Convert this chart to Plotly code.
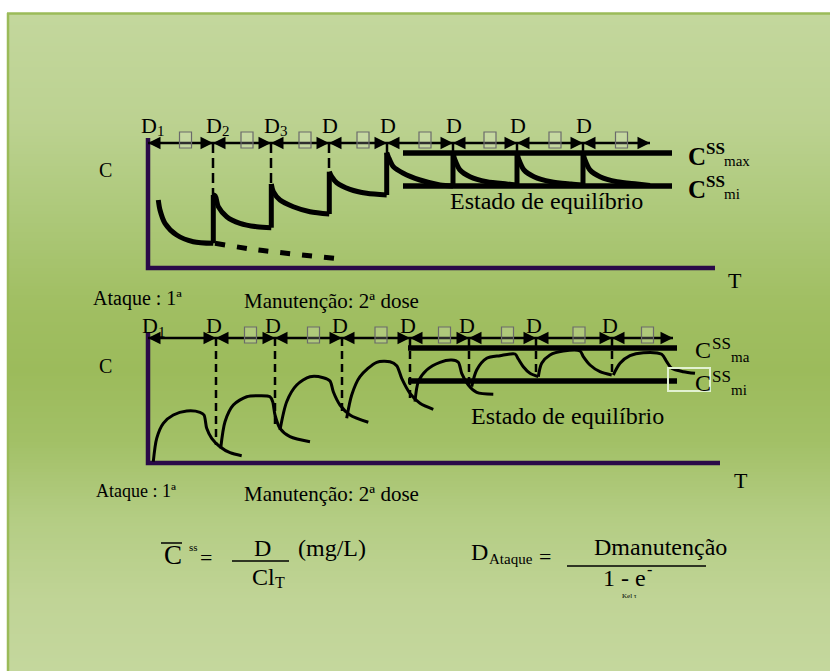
import plotly.graph_objects as go

W, H = 830, 671
FONT = "Liberation Serif"

# ---------------- data (time in h, concentration in mg/L) ----------------
# Panel 1 : repeated i.v. bolus doses
p1_dose_t = [0, 6.5, 12.3, 18.1, 23.9, 30.5, 36.9, 43.5]
p1_last_t = 50.2
p1_peak_C = [6.8, 7.3, 8.4, 9.6, 11.5, 11.5, 11.5, 11.5]
p1_labels = ["D", "D", "D", "D", "D", "D", "D", "D"]
p1_label_subs = ["1", "2", "3", "", "", "", "", ""]
p1_decay_t = [
    [1.03, 1.2, 1.7, 2.87, 4.53, 6.53],
    [6.53, 6.73, 7.03, 7.87, 9.2, 10.87, 12.33],
    [12.33, 12.53, 13.2, 14.53, 16.2, 18.13],
    [18.13, 18.37, 18.87, 20.2, 21.87, 23.87],
    [23.87, 24.03, 24.53, 25.53, 27.2, 29.2, 30.5],
    [30.5, 30.7, 31.2, 32.2, 33.87, 35.87, 36.9],
    [36.9, 37.1, 37.6, 38.6, 40.3, 42.3, 43.5],
    [43.5, 43.7, 44.2, 45.2, 46.9, 48.9, 50.2],
]
p1_decay_C = [
    [6.8, 5.8, 4.47, 3.3, 2.63, 2.47],
    [7.3, 7.2, 6.13, 5.13, 4.47, 4.13, 4.03],
    [8.4, 7.63, 6.8, 6.13, 5.63, 5.4],
    [9.63, 9.13, 8.53, 7.87, 7.47, 7.3],
    [11.53, 11.13, 10.13, 9.47, 8.8, 8.3, 8.2],
    [11.5, 10.8, 9.8, 9.13, 8.63, 8.4, 8.3],
    [11.5, 10.8, 9.8, 9.13, 8.63, 8.4, 8.3],
    [11.5, 10.8, 9.8, 9.13, 8.63, 8.4, 8.25],
]
p1_single_t = [6.7, 11.0, 18.7]
p1_single_C = [2.47, 1.8, 0.97]
p1_css_max, p1_css_min = 11.5, 8.2
p1_css_t = [25.5, 52.4]
p1_axis_t_end, p1_axis_C_top = 56.7, 13.0

# Panel 2 : repeated extravascular doses
p2_dose_t = [0, 6.8, 12.7, 19.4, 26.2, 32.1, 38.8, 46.4]
p2_last_t = 52.5
p2_dose_C = [None, 1.8, 3.5, 4.8, 6.3, 7.8, 8.6, 8.8]
p2_labels = ["D", "D", "D", "D", "D", "D", "D", "D"]
p2_label_subs = ["1", "", "", "", "", "", "", ""]
p2_curve_t = [
    [0.53, 0.87, 1.53, 2.53, 3.87, 5.2, 5.6, 5.87, 6.37, 7.2, 8.2, 9.37],
    [7.27, 7.7, 8.53, 9.87, 11.2, 12.2, 12.47, 12.7, 13.2, 14.2, 16.2],
    [13.2, 13.87, 14.87, 16.2, 17.53, 18.2, 18.53, 19.2, 20.2, 22.03],
    [19.87, 20.37, 21.2, 22.87, 24.2, 24.87, 25.37, 26.2, 27.2, 28.53],
    [26.7, 27.03, 27.87, 29.2, 30.37, 31.03, 31.37, 32.03, 32.87, 34.53],
    [32.37, 32.87, 33.87, 35.2, 36.7, 37.03, 37.53, 38.2, 39.03],
    [39.03, 39.37, 40.2, 41.53, 43.2, 43.53, 44.2, 45.2, 46.37],
    [46.53, 47.2, 48.2, 49.53, 51.37, 51.87, 52.37, 53.53, 54.7],
]
p2_curve_C = [
    [0.13, 2.47, 3.97, 4.8, 5.2, 5.07, 4.8, 3.47, 2.47, 1.63, 1.03, 0.73],
    [1.47, 4.13, 5.8, 6.63, 6.73, 6.63, 6.13, 4.8, 3.47, 2.63, 2.13],
    [3.3, 6.13, 7.8, 8.63, 8.53, 8.2, 7.13, 5.8, 4.8, 4.07],
    [4.47, 6.8, 8.63, 10.07, 10.13, 9.73, 8.47, 6.97, 5.97, 5.37],
    [6.13, 8.13, 9.3, 10.07, 10.3, 10.07, 8.97, 7.8, 7.07, 6.87],
    [7.63, 9.3, 10.47, 10.73, 10.9, 10.4, 9.63, 8.97, 8.63],
    [8.63, 9.97, 10.8, 11.2, 11.2, 10.63, 9.8, 9.13, 8.8],
    [8.8, 9.97, 10.73, 11.03, 10.87, 10.13, 9.47, 9.13, 8.97],
]
p2_css_max, p2_css_min = 11.5, 8.2
p2_css_t = [26.0, 52.9]
p2_axis_t_end, p2_axis_C_top = 57.2, 13.0

# ---------------- styling constants ----------------
PURPLE = "#2a0a48"
ARROW_C = 12.5
TAU_C = 12.8

fig = go.Figure()


def line(xs, ys, axes, width, color="black", dash=None, shape="linear"):
    fig.add_trace(go.Scatter(
        x=xs, y=ys, xaxis=axes[0], yaxis=axes[1], mode="lines",
        line=dict(width=width, color=color, dash=dash, shape=shape, smoothing=0.8),
        hoverinfo="skip", showlegend=False, connectgaps=False))


def arrows(doses, last, axes):
    ends = doses[1:] + [last]
    for a, b in zip(doses, ends):
        line([a, b], [ARROW_C, ARROW_C], axes, 2.3)
    fig.add_trace(go.Scatter(
        x=doses, y=[ARROW_C] * len(doses), xaxis=axes[0], yaxis=axes[1], mode="markers",
        marker=dict(symbol="arrow-left", size=12.5, color="black", line=dict(width=0)),
        hoverinfo="skip", showlegend=False))
    fig.add_trace(go.Scatter(
        x=ends, y=[ARROW_C] * len(ends), xaxis=axes[0], yaxis=axes[1], mode="markers",
        marker=dict(symbol="arrow-right", size=12.5, color="black", line=dict(width=0)),
        hoverinfo="skip", showlegend=False))


A1, A2 = ("x", "y"), ("x2", "y2")

# ---- panel 1 ----
line([0, 0, p1_axis_t_end], [p1_axis_C_top, 0, 0], A1, 4.5, PURPLE)
for tt, cc in zip(p1_decay_t, p1_decay_C):
    line(tt, cc, A1, 5, shape="spline")
for i in range(1, len(p1_dose_t)):
    line([p1_decay_t[i - 1][-1], p1_decay_t[i][0]], [p1_decay_C[i - 1][-1], p1_decay_C[i][0]], A1, 5)
line(p1_single_t, p1_single_C, A1, 5, dash="10px,12px", shape="spline")
line(p1_css_t, [p1_css_max] * 2, A1, 5.5)
line(p1_css_t, [p1_css_min] * 2, A1, 5.5)
for i in range(1, len(p1_dose_t)):
    line([p1_dose_t[i]] * 2, [ARROW_C, p1_peak_C[i]], A1, 2.5, dash="10px,5px")
arrows(p1_dose_t, p1_last_t, A1)

# ---- panel 2 ----
line([0, 0, p2_axis_t_end], [p2_axis_C_top, 0, 0], A2, 4.5, PURPLE)
line(p2_css_t, [p2_css_max] * 2, A2, 5.5)
line(p2_css_t, [p2_css_min] * 2, A2, 5.5)
for i in range(1, len(p2_dose_t)):
    line([p2_dose_t[i]] * 2, [ARROW_C, p2_dose_C[i]], A2, 2.5, dash="8px,5px")
for tt, cc in zip(p2_curve_t, p2_curve_C):
    line(tt, cc, A2, 3, shape="spline")
arrows(p2_dose_t, p2_last_t, A2)

# ---------------- annotations ----------------
ann = []
shapes = []


def txt(x, y, text, size, xref="x", yref="y", xanchor="center", yanchor="middle",
        xshift=0, yshift=0, bold=False):
    ann.append(dict(x=x, y=y, xref=xref, yref=yref, text=text, showarrow=False,
                    xanchor=xanchor, yanchor=yanchor, xshift=xshift, yshift=yshift,
                    font=dict(family=FONT, size=size, color="black",
                              weight=("bold" if bold else "normal"))))


def taus(doses, last, xr, yr, skip_first=False):
    ends = doses[1:] + [last]
    for k, (a, b) in enumerate(zip(doses, ends)):
        if skip_first and k == 0:
            continue
        m = (a + b) / 2 + 0.5
        shapes.append(dict(type="rect", xref=xr, yref=yr, x0=m - 0.6, x1=m + 0.6,
                           y0=TAU_C - 0.8, y1=TAU_C + 0.8,
                           line=dict(color="#6a6a6a", width=1.2), fillcolor="rgba(255,255,255,0.18)"))


# panel 1 texts
for t, lab, sub in zip(p1_dose_t, p1_labels, p1_label_subs):
    txt(t, 14.3, lab, 22, xanchor="left", xshift=-9)
    if sub:
        txt(t, 13.7, sub, 15, xanchor="left", xshift=7)
txt(-4.3, 9.8, "C", 20)
txt(58.7, -1.2, "T", 22)
txt(39.8, 6.7, "Estado de equilíbrio", 24)
for cy, sub in [(11.2, "max"), (7.9, "mi")]:
    txt(53.8, cy, "C", 25, xanchor="left", bold=True)
    txt(55.6, cy + 0.8, "SS", 17, xanchor="left", bold=True)
    txt(57.4, cy - 0.5, sub, 15, xanchor="left")
txt(-1.1, -3.0, "Ataque : 1ª", 20)
txt(18.3, -3.3, "Manutenção: 2ª dose", 21)

# panel 2 texts
for k, (t, lab, sub) in enumerate(zip(p2_dose_t, p2_labels, p2_label_subs)):
    sh = -8 if k == 0 else -12
    txt(t, 13.75, lab, 22, xref="x2", yref="y2", xanchor="left", xshift=sh)
    if sub:
        txt(t, 13.15, sub, 15, xref="x2", yref="y2", xanchor="left", xshift=sh + 16)
txt(-4.3, 9.7, "C", 20, "x2", "y2")
txt(59.3, -1.7, "T", 22, "x2", "y2")
txt(41.9, 4.7, "Estado de equilíbrio", 24, "x2", "y2")
for cy, sub in [(11.3, "ma"), (8.0, "mi")]:
    txt(54.5, cy, "C", 24, "x2", "y2", xanchor="left")
    txt(56.2, cy + 0.65, "SS", 17, "x2", "y2", xanchor="left")
    txt(58.1, cy - 0.65, sub, 15, "x2", "y2", xanchor="left")
txt(-1.2, -2.8, "Ataque : 1ª", 18, "x2", "y2")
txt(18.3, -3.1, "Manutenção: 2ª dose", 21, "x2", "y2")

taus(p1_dose_t, p1_last_t, "x", "y")
taus(p2_dose_t, p2_last_t, "x2", "y2", skip_first=True)

shapes.append(dict(type="rect", xref="x2", yref="y2", x0=52.0, x1=56.2, y0=7.2, y1=9.5,
                   line=dict(color="#e2f2d2", width=2)))


# formula row (paper coordinates from pixel positions)
def px(x):
    return x / W


def py(y):
    return 1 - y / H


def ptxt(x, y, text, size, xanchor="center"):
    txt(px(x), py(y), text, size, xref="paper", yref="paper", xanchor=xanchor)


ptxt(173, 555, "C", 27)
ptxt(187, 547, "ss", 11, xanchor="left")
ptxt(206, 557, "=", 22)
ptxt(262, 548, "D", 24)
ptxt(250, 577, "Cl", 24, xanchor="left")
ptxt(273, 582, "T", 16, xanchor="left")
ptxt(296, 548, "(mg/L)", 24, xanchor="left")
ptxt(469, 552, "D", 24, xanchor="left")
ptxt(487, 559, "Ataque", 15, xanchor="left")
ptxt(545, 556, "=", 22)
ptxt(660, 547, "Dmanutenção", 24)
ptxt(601, 578, "1 - e", 24, xanchor="left")
ptxt(645, 569, "-", 16, xanchor="left")
ptxt(620, 596, "Kel τ", 7, xanchor="left")

for (x0, x1, y) in [(161, 182, 543), (232, 289, 561), (567, 706, 566)]:
    shapes.append(dict(type="line", xref="paper", yref="paper", x0=px(x0), x1=px(x1), y0=py(y), y1=py(y),
                       line=dict(color="black", width=1.5)))

# ---------------- background gradient ----------------
stops_y = [13, 120, 220, 300, 370, 440, 520, 600, 671]
stops_rgb = [(195, 215, 157), (188, 210, 145), (172, 200, 120), (161, 191, 99), (156, 187, 91),
             (162, 192, 102), (180, 205, 132), (192, 212, 150), (196, 215, 157)]


def grad(y):
    for i in range(len(stops_y) - 1):
        if stops_y[i] <= y <= stops_y[i + 1]:
            f = (y - stops_y[i]) / (stops_y[i + 1] - stops_y[i])
            a, b = stops_rgb[i], stops_rgb[i + 1]
            return "rgb(%d,%d,%d)" % tuple(round(a[k] + (b[k] - a[k]) * f) for k in range(3))
    return "rgb(%d,%d,%d)" % stops_rgb[-1]


bg = []
STEP = 3
for yy in range(13, H, STEP):
    bg.append(dict(type="rect", xref="paper", yref="paper", layer="below",
                   x0=px(7), x1=1, y0=py(min(yy + STEP + 0.6, H)), y1=py(yy),
                   line=dict(width=0), fillcolor=grad(yy + STEP / 2)))
bg.append(dict(type="line", xref="paper", yref="paper", layer="below", x0=px(7), x1=1, y0=py(13.5), y1=py(13.5),
               line=dict(color="#9bbb59", width=2.5)))
bg.append(dict(type="line", xref="paper", yref="paper", layer="below", x0=px(8), x1=px(8), y0=py(13), y1=0,
               line=dict(color="#9bbb59", width=2.5)))

ax_common = dict(visible=False, showgrid=False, zeroline=False, fixedrange=True)
fig.update_layout(
    width=W, height=H, autosize=False, margin=dict(l=0, r=0, t=0, b=0),
    paper_bgcolor="white", plot_bgcolor="rgba(0,0,0,0)", showlegend=False,
    xaxis=dict(domain=[48 / W, 808 / W], range=[-10, 66], anchor="y", **ax_common),
    yaxis=dict(domain=[1 - 305 / H, 1 - 100 / H], range=[-3.7, 16.8], anchor="x", **ax_common),
    xaxis2=dict(domain=[48 / W, 808 / W], range=[-10, 66], anchor="y2", **ax_common),
    yaxis2=dict(domain=[1 - 515 / H, 1 - 305 / H], range=[-5.2, 15.8], anchor="x2", **ax_common),
    shapes=bg + shapes,
    annotations=ann,
)

fig.write_html("out.html", config={"displayModeBar": False})

# remove the browser's default page margin so the figure sits at the top-left corner
with open("out.html", encoding="utf-8") as f:
    html = f.read()
html = html.replace("<body>", '<body style="margin:0;padding:0;overflow:hidden;">', 1)
with open("out.html", "w", encoding="utf-8") as f:
    f.write(html)
